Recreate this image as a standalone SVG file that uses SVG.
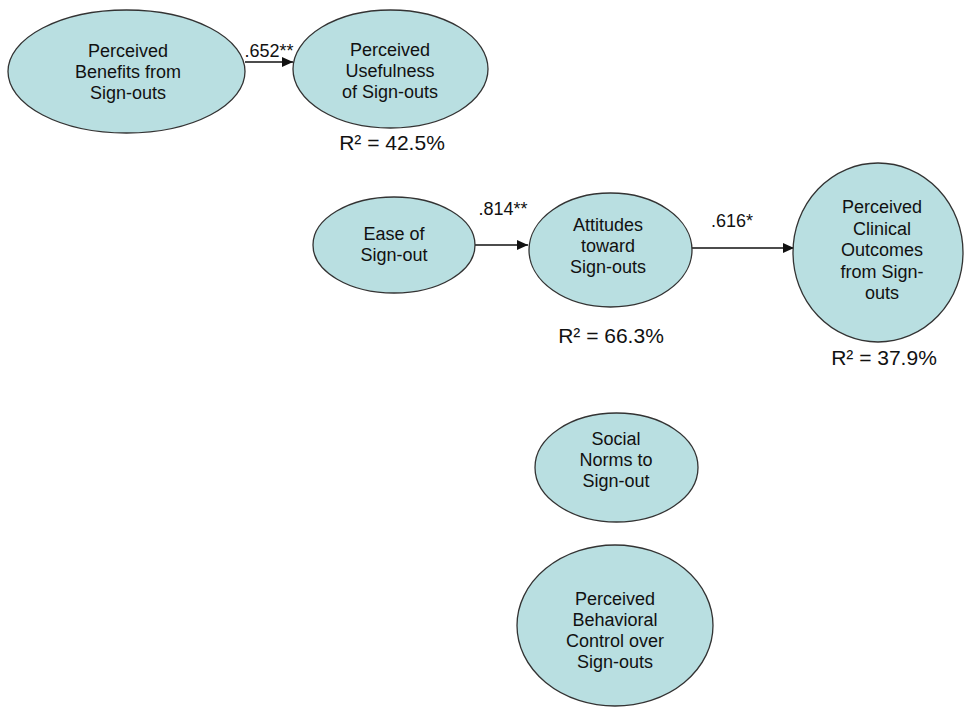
<svg xmlns="http://www.w3.org/2000/svg" width="964" height="708" viewBox="0 0 964 708">
<style>
.node ellipse{fill:#B9DFE1;stroke:#333;stroke-width:1.3}
.node text,.lbl{font-family:"Liberation Sans",Arial,sans-serif;font-size:18px;fill:#111;text-anchor:middle}
.r2{font-family:"Liberation Sans",Arial,sans-serif;font-size:21px;fill:#111;text-anchor:middle}
.edge{stroke:#111;stroke-width:1.3;fill:none;marker-end:url(#ah)}
</style>
<defs>
<marker id="ah" viewBox="0 0 11 10" refX="11" refY="5" markerWidth="11" markerHeight="10" markerUnits="userSpaceOnUse" orient="auto">
<path d="M0,0 L11,5 L0,10 Z" fill="#111"/>
</marker>
</defs>
<rect width="964" height="708" fill="#fff"/>
<g id="connectors">
<path class="edge" d="M245,62 L293,62"/>
<path class="edge" d="M475,245 L528,245"/>
<path class="edge" d="M692,248 L794,248"/>
<text class="lbl" x="269" y="57">.652**</text>
<text class="lbl" x="503" y="215">.814**</text>
<text class="lbl" x="732" y="227">.616*</text>
</g>
<g id="benefits" class="node">
<ellipse cx="126.5" cy="71.5" rx="118.5" ry="61.5"/>
<text x="128" y="57">Perceived</text>
<text x="128" y="78">Benefits from</text>
<text x="128" y="99">Sign-outs</text>
</g>
<g id="usefulness" class="node">
<ellipse cx="390.5" cy="69" rx="97.5" ry="59"/>
<text x="390" y="56">Perceived</text>
<text x="390" y="77">Usefulness</text>
<text x="390" y="98">of Sign-outs</text>
</g>
<text class="r2" x="392" y="150">R² = 42.5%</text>
<g id="ease" class="node">
<ellipse cx="394" cy="245" rx="81" ry="48"/>
<text x="394" y="240">Ease of</text>
<text x="394" y="261">Sign-out</text>
</g>
<g id="attitudes" class="node">
<ellipse cx="610.5" cy="250" rx="81.5" ry="57"/>
<text x="608" y="231">Attitudes</text>
<text x="608" y="252">toward</text>
<text x="608" y="273">Sign-outs</text>
</g>
<text class="r2" x="611" y="343">R² = 66.3%</text>
<g id="outcomes" class="node">
<ellipse cx="878" cy="252.5" rx="85" ry="89.5"/>
<text x="882" y="213">Perceived</text>
<text x="882" y="235">Clinical</text>
<text x="882" y="256">Outcomes</text>
<text x="882" y="278">from Sign-</text>
<text x="882" y="299">outs</text>
</g>
<text class="r2" x="884" y="365">R² = 37.9%</text>
<g id="norms" class="node">
<ellipse cx="616.5" cy="467.5" rx="81.5" ry="54.5"/>
<text x="616" y="445">Social</text>
<text x="616" y="466">Norms to</text>
<text x="616" y="487">Sign-out</text>
</g>
<g id="control" class="node">
<ellipse cx="615" cy="625.5" rx="98" ry="80.5"/>
<text x="615" y="605">Perceived</text>
<text x="615" y="626">Behavioral</text>
<text x="615" y="647">Control over</text>
<text x="615" y="668">Sign-outs</text>
</g>
</svg>
